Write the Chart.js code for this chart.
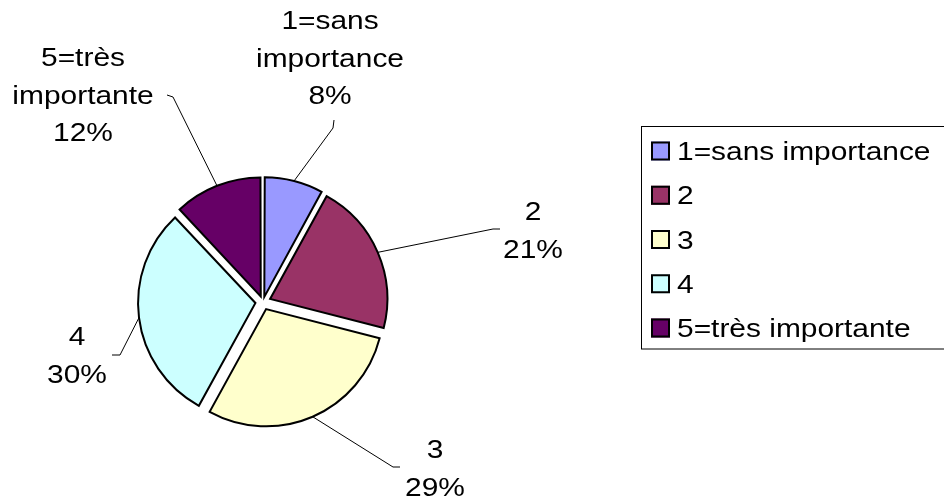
<!DOCTYPE html>
<html>
<head>
<meta charset="utf-8">
<script src="https://cdn.jsdelivr.net/npm/chart.js@4/dist/chart.umd.min.js"></script>
<style>
  html, body { margin: 0; padding: 0; background: #fff; }
  #wrap { width: 944px; height: 502px; }
</style>
</head>
<body>
<div id="wrap"><canvas id="pieChart" width="944" height="502"></canvas></div>
<script>
// data
const categories = ['1=sans importance', '2', '3', '4', '5=très importante'];
const shortLabels = [['1=sans', 'importance'], ['2'], ['3'], ['4'], ['5=très', 'importante']];
const values = [8, 21, 29, 30, 12];
const sliceColors = ['#9999FF', '#993366', '#FFFFCC', '#CCFFFF', '#660066'];

const FONT = "26px 'Liberation Sans', Arial, sans-serif";
const STRETCH = 1.15;     // text in the picture is a bit wider than Arial
const EXPLODE = 8;        // pixels each slice is pulled out

// where the data labels sit and how their leader lines bend
const labelPos = [
    { x: 330, y: 29, elbow: [[333, 128], [334, 120]] },
    { x: 533, y: 220, elbow: [[493, 229], [500, 229]] },
    { x: 435, y: 458, elbow: [[393, 467], [400, 467]] },
    { x: 77, y: 345, elbow: [[120, 355], [112, 355]] },
    { x: 83, y: 66, elbow: [[173, 97], [167, 95]] }
];
const lineGap = 37.7;

const total = values.reduce((a, b) => a + b, 0);
const pct = v => Math.round(v / total * 100) + '%';

function stretchedText(ctx, s, x, y) {
    ctx.save();
    ctx.translate(x, y);
    ctx.scale(STRETCH, 1);
    ctx.fillText(s, 0, 0);
    ctx.restore();
}

const labelsPlugin = {
    id: 'excelLabels',
    afterDraw(chart) {
        const ctx = chart.ctx;
        const meta = chart.getDatasetMeta(0);
        ctx.save();
        ctx.font = FONT;
        ctx.fillStyle = '#000';
        ctx.strokeStyle = '#000';
        ctx.lineWidth = 1;
        ctx.textBaseline = 'alphabetic';

        meta.data.forEach((arc, i) => {
            const mid = (arc.startAngle + arc.endAngle) / 2;
            const r = arc.outerRadius + EXPLODE;
            const sx = arc.x + Math.cos(mid) * r;
            const sy = arc.y + Math.sin(mid) * r;
            const p = labelPos[i];
            ctx.beginPath();
            ctx.moveTo(sx, sy);
            p.elbow.forEach(pt => ctx.lineTo(pt[0], pt[1]));
            ctx.stroke();

            ctx.textAlign = 'center';
            const lines = shortLabels[i].concat([pct(values[i])]);
            lines.forEach((s, k) => stretchedText(ctx, s, p.x, p.y + k * lineGap));
        });

        // legend box
        const lx = 641, ly = 126, rowH = 44.25;
        ctx.strokeRect(lx + 0.5, ly + 0.5, 400, 222.5);
        ctx.textAlign = 'left';
        categories.forEach((c, i) => {
            const cy = 151 + i * rowH;
            ctx.fillStyle = sliceColors[i];
            ctx.fillRect(651, cy - 9.5, 19, 19);
            ctx.lineWidth = 2;
            ctx.strokeRect(652, cy - 8.5, 17, 17);
            ctx.fillStyle = '#000';
            stretchedText(ctx, c, 677, cy + 9);
        });
        ctx.restore();
    }
};

// Chart.js moves an arc by offset/4 * (2 - sin(circumference)); pick offsets so all move EXPLODE px
function sliceOffset(c) {
    const circ = c.parsed / total * 2 * Math.PI;
    return 4 * EXPLODE / (2 - Math.sin(Math.min(Math.PI, circ)));
}

new Chart(document.getElementById('pieChart').getContext('2d'), {
    type: 'pie',
    data: {
        labels: categories,
        datasets: [{
            data: values,
            backgroundColor: sliceColors,
            borderColor: '#000',
            borderWidth: 2,
            hoverBorderWidth: 2,
            borderJoinStyle: 'miter',
            offset: sliceOffset,
            hoverOffset: 0
        }]
    },
    options: {
        responsive: false,
        animation: false,
        events: [],
        layout: {
            padding: { left: 129.5, right: 547.5, top: 168.5, bottom: 66.5 }
        },
        plugins: {
            legend: { display: false },
            tooltip: { enabled: false }
        }
    },
    plugins: [labelsPlugin]
});
</script>
</body>
</html>
